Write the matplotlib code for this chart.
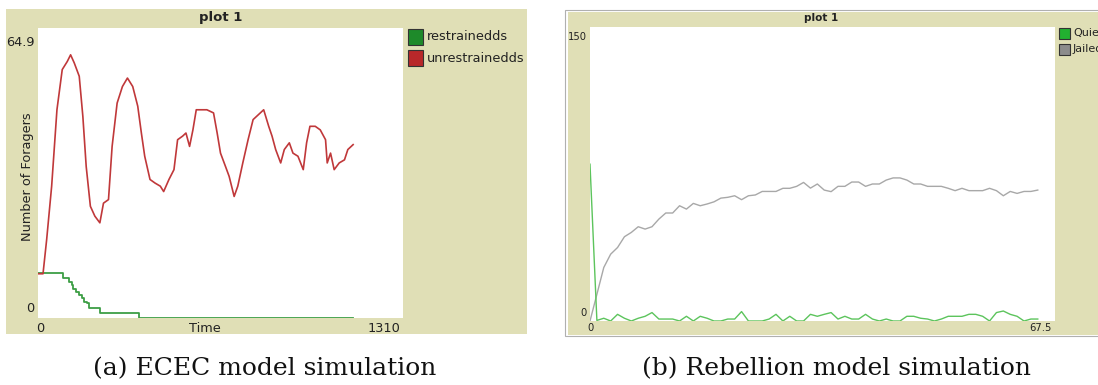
import matplotlib.pyplot as plt
from matplotlib.patches import Rectangle

# ---- data: ECEC model (left panel) ----
ecec_unres_t = [0, 18, 31, 49, 68, 87, 105, 117, 130, 148, 161, 173, 188, 204, 222, 235,
                253, 266, 284, 303, 321, 340, 358, 371, 383, 402, 420, 439, 451, 470, 488,
                501, 519, 531, 544, 556, 568, 587, 606, 630, 643, 655, 673, 686, 704, 717,
                735, 754, 772, 791, 810, 828, 840, 853, 871, 884, 902, 915, 933, 952, 964,
                976, 995, 1013, 1032, 1038, 1050, 1063, 1081, 1100, 1112, 1131]
ecec_unres = [9.9, 9.9, 17.5, 29.5, 46.6, 55.6, 57.4, 58.9, 57.1, 54.1, 45.1, 33.9, 25.0,
              22.8, 21.3, 25.7, 26.5, 38.4, 48.1, 51.8, 53.7, 51.8, 47.4, 41.4, 36.2, 31.0,
              30.2, 29.5, 28.3, 31.0, 33.2, 39.9, 40.7, 41.4, 38.4, 42.1, 46.6, 46.6, 46.6,
              45.9, 41.4, 36.9, 33.9, 31.7, 27.2, 29.5, 34.7, 39.9, 44.4, 45.5, 46.6, 42.9,
              40.7, 37.7, 34.7, 37.7, 39.2, 36.9, 36.2, 33.2, 39.2, 42.9, 42.9, 42.1, 39.9,
              34.7, 36.9, 33.2, 34.7, 35.4, 37.7, 38.8]
ecec_res_t = [0, 90, 113, 121, 126, 137, 148, 158, 165, 175, 182, 221, 228, 361, 1131]
ecec_res = [10.0, 8.9, 8.1, 7.4, 6.6, 5.9, 5.1, 4.4, 3.6, 3.3, 2.2, 1.2, 1.2, 0.0, 0.0]
ecec_labels = ["restrainedds", "unrestrainedds"]

# ---- data: Rebellion model (right panel) ----
reb_t = list(range(66))
reb_quiet = [80.0, 0.3, 1.4, 0, 3.4, 1.4, 0, 1.4, 2.4, 4.3, 1, 1, 1, 0, 2.4, 0, 2.4, 1.4,
             0, 0, 1, 1, 4.8, 0, 0, 0, 1, 3.4, 0, 2.4, 0, 0, 3.4, 2.4, 3.4, 4.3, 1, 2.4,
             1, 1, 3.4, 1, 0, 1, 0, 0, 2.4, 2.4, 1.4, 1, 0, 1, 2.4, 2.4, 2.4, 3.4, 3.4,
             2.4, 0, 4.3, 5.1, 3.4, 2.4, 0, 1, 1]
reb_jailed = [0, 13.6, 27.3, 34.1, 37.5, 43.0, 45.2, 48.1, 46.9, 48.1, 52.0, 55.1, 55.1,
              58.8, 57.1, 60.0, 58.8, 59.7, 60.8, 62.7, 63.1, 63.9, 61.9, 63.9, 64.3, 66.1,
              66.1, 66.1, 67.7, 67.7, 68.7, 70.7, 67.8, 69.9, 66.8, 66.0, 68.7, 68.7, 70.9,
              70.9, 68.7, 69.9, 69.9, 71.9, 73.0, 73.0, 71.9, 69.9, 69.9, 68.7, 68.7, 68.7,
              67.7, 66.5, 67.7, 66.5, 66.5, 66.5, 67.7, 66.5, 63.9, 66.1, 65.1, 66.1, 66.1,
              66.8]
reb_labels = ["Quiet", "Jailed"]

W, H = 1098, 385
BEIGE = "#e0dfb6"
fig = plt.figure(figsize=(W / 100, H / 100), dpi=100)
fig.patch.set_facecolor("white")


def px_axes(x0, y0, x1, y1):
    # pixel box (top-left origin) -> figure axes
    ax = fig.add_axes([x0 / W, 1 - y1 / H, (x1 - x0) / W, (y1 - y0) / H])
    ax.set_zorder(5)
    ax.set_facecolor("white")
    return ax


def fx(x):
    return x / W


def fy(y):
    return 1 - y / H


def bare(ax):
    ax.set_xticks([])
    ax.set_yticks([])
    for s in ax.spines.values():
        s.set_visible(False)


# beige panels
fig.patches.append(Rectangle((fx(6), fy(334)), fx(521), 325 / H, transform=fig.transFigure,
                             facecolor=BEIGE, edgecolor="none", zorder=-1))
fig.patches.append(Rectangle((fx(565), fy(336)), fx(540), 326 / H, transform=fig.transFigure,
                             facecolor="white", edgecolor="#b0b0b0", lw=0.8, zorder=-2))
fig.patches.append(Rectangle((fx(568), fy(335)), fx(540), 323 / H, transform=fig.transFigure,
                             facecolor=BEIGE, edgecolor="none", zorder=-1))

# ---- left plot ----
ax1 = px_axes(38, 28, 403, 318)
bare(ax1)
ax1.set_xlim(0, 1310)
ax1.set_ylim(0, 64.9)
ax1.plot(ecec_res_t, ecec_res, color="#3d9e45", lw=1.3, drawstyle="steps-post")
ax1.plot(ecec_unres_t, ecec_unres, color="#c0383a", lw=1.2)

tk = dict(fontsize=9.3, color="#222222", family="DejaVu Sans")
fig.text(fx(221), fy(18), "plot 1", ha="center", va="center", fontsize=9.5,
         fontweight="bold", color="#222222")
fig.text(fx(35), fy(42), "64.9", ha="right", va="center", **tk)
fig.text(fx(34), fy(309), "0", ha="right", va="center", **tk)
fig.text(fx(40), fy(328), "0", ha="center", va="center", **tk)
fig.text(fx(384), fy(328), "1310", ha="center", va="center", **tk)
fig.text(fx(205), fy(328), "Time", ha="center", va="center", **tk)
fig.text(fx(27), fy(177), "Number of Foragers", ha="center", va="center",
         rotation=90, **tk)

leg_cols = ["#1e8a2a", "#b8282a"]
for i, (lab, c) in enumerate(zip(ecec_labels, leg_cols)):
    yc = 37 + i * 21
    fig.patches.append(Rectangle((fx(408), fy(yc + 8)), fx(15), 16 / H,
                                 transform=fig.transFigure, facecolor=c,
                                 edgecolor="#333333", lw=0.8))
    fig.text(fx(427), fy(yc), lab, ha="left", va="center", **tk)

# ---- right plot ----
ax2 = px_axes(590, 27, 1055, 321)
bare(ax2)
ax2.set_xlim(0, 67.5)
ax2.set_ylim(0, 150)
ax2.plot(reb_t, reb_jailed, color="#a8a8a8", lw=1.0)
ax2.plot(reb_t, reb_quiet, color="#5cc45c", lw=1.0)

tk2 = dict(fontsize=7.2, color="#222222", family="DejaVu Sans")
fig.text(fx(821), fy(18), "plot 1", ha="center", va="center", fontsize=7.5,
         fontweight="bold", color="#222222")
fig.text(fx(587), fy(37), "150", ha="right", va="center", **tk2)
fig.text(fx(587), fy(313), "0", ha="right", va="center", **tk2)
fig.text(fx(591), fy(328), "0", ha="center", va="center", **tk2)
fig.text(fx(1040), fy(328), "67.5", ha="center", va="center", **tk2)

leg_cols2 = ["#22b030", "#8c8c8c"]
for i, (lab, c) in enumerate(zip(reb_labels, leg_cols2)):
    yc = 33 + i * 16
    fig.patches.append(Rectangle((fx(1059), fy(yc + 6)), fx(11), 11 / H,
                                 transform=fig.transFigure, facecolor=c,
                                 edgecolor="#333333", lw=0.8))
    fig.text(fx(1073), fy(yc), lab, ha="left", va="center", fontsize=8,
             color="#222222")

# captions
cap = dict(fontsize=18, color="#111111", family="DejaVu Serif", ha="center", va="center")
fig.text(fx(265), fy(369), "(a) ECEC model simulation", **cap)
fig.text(fx(836), fy(369), "(b) Rebellion model simulation", **cap)

fig.savefig("out.png", dpi=100)
